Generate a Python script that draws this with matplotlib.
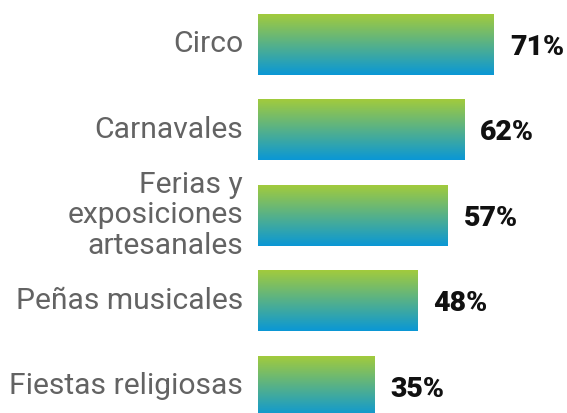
import numpy as np
import matplotlib.pyplot as plt
from matplotlib.colors import LinearSegmentedColormap

categorias = ['Circo', 'Carnavales', 'Ferias y\nexposiciones\nartesanales',
              'Peñas musicales', 'Fiestas religiosas']
valores = [71, 62, 57, 48, 35]
etiquetas = ['71%', '62%', '57%', '48%', '35%']

plt.rcParams['font.family'] = ['Roboto', 'DejaVu Sans']

fig = plt.figure(figsize=(5.67, 4.13), dpi=100)
ax = fig.add_axes([0, 0, 1, 1])

px = 236 / 71  # pixeles por punto porcentual
ax.axis('off')

cmap = LinearSegmentedColormap.from_list('verde_azul', ['#a2cb3c', '#0a97d6'])
grad = np.linspace(0, 1, 256).reshape(-1, 1)
alto = 0.713

for i, (v, txt) in enumerate(zip(valores, etiquetas)):
    ax.imshow(grad, cmap=cmap, aspect='auto', interpolation='bilinear',
              extent=[0, v, i + alto / 2, i - alto / 2], zorder=2)
    ax.text(v + 16 / px, i + 0.03, txt, ha='left', va='center',
            fontsize=20.5, fontweight='black', color='#111111')
    ax.text(-15 / px, i, categorias[i], ha='right', va='center',
            fontsize=21.6, color='#636363', linespacing=1.12)

ax.set_xlim(-258 / px, (567 - 258) / px)
ax.set_ylim((413 - 44.5) / 85.5, -44.5 / 85.5)
fig.savefig('out.png', dpi=100)
